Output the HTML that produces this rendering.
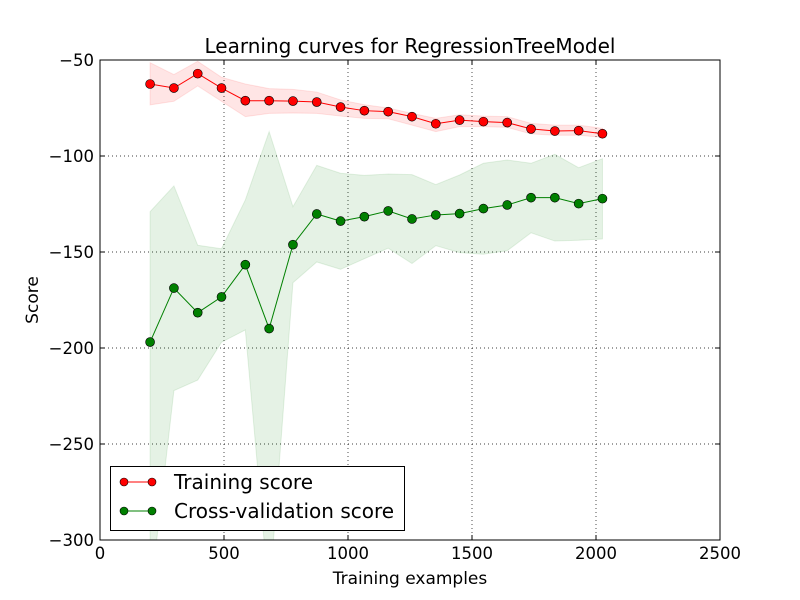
<!DOCTYPE html>
<html><head><meta charset="utf-8"><style>
body{margin:0;background:#fff;}
svg{display:block;font-family:"DejaVu Sans","Liberation Sans",sans-serif;}
</style></head><body>
<svg id="chart" width="800" height="600">
<rect x="0" y="0" width="800" height="600" fill="#fff"/>
<defs><clipPath id="pc"><rect x="100" y="60" width="620" height="480"/></clipPath></defs>
<g id="grid"></g>
<g id="bands" clip-path="url(#pc)"></g>
<g id="series" clip-path="url(#pc)"></g>
<rect x="100" y="60" width="620" height="480" fill="none" stroke="#000" stroke-width="1"/>
<g id="axes"></g>
<text x="410" y="53" font-size="20" text-anchor="middle">Learning curves for RegressionTreeModel</text>
<text x="410" y="584" font-size="17" text-anchor="middle">Training examples</text>
<text x="38" y="300" font-size="17" text-anchor="middle" transform="rotate(-90 38 300)">Score</text>
<g>
<rect x="110.5" y="466.5" width="294" height="64" fill="#fff" stroke="#000" stroke-width="1"/>
<g>
<line x1="124" y1="482" x2="152" y2="482" stroke="#f00" stroke-width="1"/>
<circle cx="124" cy="482" r="4" fill="#f00" stroke="#000" stroke-width="0.6"/>
<circle cx="152" cy="482" r="4" fill="#f00" stroke="#000" stroke-width="0.6"/>
<text x="174" y="489" font-size="20">Training score</text></g>
<g>
<line x1="124" y1="511" x2="152" y2="511" stroke="#008000" stroke-width="1"/>
<circle cx="124" cy="511" r="4" fill="#008000" stroke="#000" stroke-width="0.6"/>
<circle cx="152" cy="511" r="4" fill="#008000" stroke="#000" stroke-width="0.6"/>
<text x="174" y="518" font-size="20">Cross-validation score</text></g>
</g>
</svg>
<script>
const trainSizes=[202,298,394,490,586,682,778,874,970,1066,1162,1258,1354,1450,1546,1642,1738,1834,1930,2026];
const trainMean=[-62.5,-64.6,-57.1,-64.6,-71.2,-71.2,-71.4,-71.9,-74.5,-76.4,-76.9,-79.5,-83.2,-81.3,-82.1,-82.6,-85.9,-87,-86.8,-88.4];
const trainUpper=[-51.4,-57.6,-50.7,-59,-62.5,-64.9,-65.3,-66.7,-70.8,-73.3,-75,-77.8,-80.4,-78.5,-79.2,-79.5,-83,-83.9,-83.9,-85.6];
const trainLower=[-73.4,-71.5,-63.5,-71.5,-79.5,-77.8,-77.6,-77.8,-79.2,-80.4,-80.6,-83.9,-87.3,-84.7,-84.7,-85.1,-88.5,-89.2,-89.2,-90.3];
const cvMean=[-196.9,-168.8,-181.6,-173.4,-156.6,-189.9,-146.2,-130.2,-133.9,-131.6,-128.6,-132.8,-130.7,-130,-127.4,-125.5,-121.7,-121.7,-124.8,-122.2];
const cvUpper=[-129,-115.6,-146.5,-148.3,-122.9,-87.3,-126.4,-104.9,-109,-110.1,-109.4,-109.7,-114.9,-109.9,-103.8,-102.1,-103.8,-99.1,-106.1,-101.4];
const cvLower=[-330,-222.2,-216.7,-197,-190.6,-330,-166,-155.2,-159,-153.5,-148,-156,-146.7,-150.3,-151.2,-149.3,-140,-144.3,-143.9,-143.2];
const xTicks=[0,500,1000,1500,2000,2500];
const yTicks=[-50,-100,-150,-200,-250,-300];
const NS="http://www.w3.org/2000/svg";
const X=v=>100+v*0.248;
const Y=v=>60+(-50-v)*1.92;
function mk(tag,attrs,parent){const e=document.createElementNS(NS,tag);for(const k in attrs)e.setAttribute(k,attrs[k]);parent.appendChild(e);return e;}
const grid=document.getElementById('grid'),axes=document.getElementById('axes');
xTicks.forEach(t=>{
  const x=X(t);
  if(t>0&&t<2500){const g=mk('line',{x1:x,y1:60,x2:x,y2:540,stroke:'#000','stroke-width':0.7,'stroke-dasharray':'1,3'},grid);
  
  }
  mk('line',{x1:x,y1:540,x2:x,y2:535,stroke:'#000'},axes);
  mk('line',{x1:x,y1:60,x2:x,y2:65,stroke:'#000'},axes);
  const tx=mk('text',{x:x,y:559,'font-size':16.5,'text-anchor':'middle'},axes);
  tx.textContent=t;
  
  
});
yTicks.forEach(t=>{
  const y=Y(t);
  if(t>-300&&t<-50){const g=mk('line',{x1:100,y1:y,x2:720,y2:y,stroke:'#000','stroke-width':0.7,'stroke-dasharray':'1,3'},grid);
  
  }
  mk('line',{x1:100,y1:y,x2:105,y2:y,stroke:'#000'},axes);
  mk('line',{x1:720,y1:y,x2:715,y2:y,stroke:'#000'},axes);
  const tx=mk('text',{x:94,y:y+6,'font-size':16.5,'text-anchor':'end'},axes);
  tx.textContent=String(t).replace('-','\u2212');
  
  
});
const bands=document.getElementById('bands'),series=document.getElementById('series');
function band(up,lo,color,name){
  let pts=trainSizes.map((s,i)=>X(s)+','+Y(up[i]));
  pts=pts.concat(trainSizes.map((s,i)=>X(s)+','+Y(lo[i])).reverse());
  const p=mk('polygon',{points:pts.join(' '),fill:color,'fill-opacity':0.1,stroke:color,'stroke-opacity':0.1},bands);
  
  
}
band(trainUpper,trainLower,'#f00','training-band');
band(cvUpper,cvLower,'#008000','cv-band');
function line(vals,color,name){
  const pl=mk('polyline',{points:trainSizes.map((s,i)=>X(s)+','+Y(vals[i])).join(' '),fill:'none',stroke:color,'stroke-width':1},series);
  
  
  vals.forEach((v,i)=>{
    const c=mk('circle',{cx:X(trainSizes[i]),cy:Y(v),r:4.5,fill:color,stroke:'#000','stroke-width':0.6},series);
    
    
  });
}
line(trainMean,'#f00','training');
line(cvMean,'#008000','cv');
</script>
</body></html>
